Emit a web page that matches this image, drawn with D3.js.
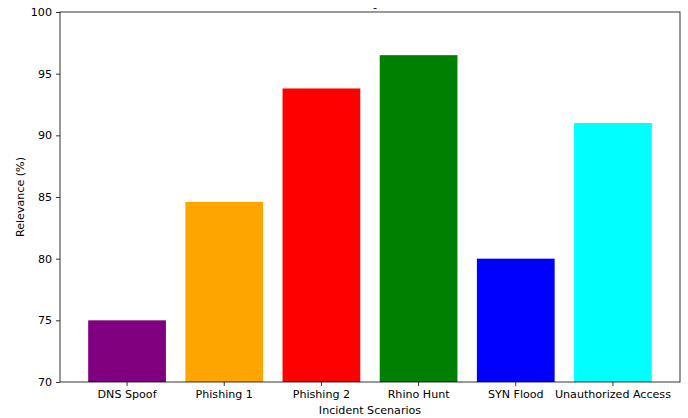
<!DOCTYPE html>
<html>
<head>
<meta charset="utf-8">
<script src="https://cdn.jsdelivr.net/npm/d3@7"></script>
<style>
  body { margin: 0; background: #fff; }
  text { font-family: "DejaVu Sans", sans-serif; fill: #000; }
</style>
</head>
<body>
<div id="chart"></div>
<script>
// data
const scenarios = ["DNS Spoof", "Phishing 1", "Phishing 2", "Rhino Hunt", "SYN Flood", "Unauthorized Access"];
const relevance = [75, 84.6, 93.8, 96.5, 80, 91];
const barColors = ["purple", "orange", "red", "green", "blue", "cyan"];
const yTicks = [70, 75, 80, 85, 90, 95, 100];

const width = 688, height = 418;
const margin = { top: 12, right: 8, bottom: 36, left: 60 };
const fontSize = "11.1px";

const svg = d3.select("#chart").append("svg")
  .attr("width", width)
  .attr("height", height);

const x = d3.scaleBand()
  .domain(scenarios)
  .range([margin.left, width - margin.right])
  .paddingInner(0.2)
  .paddingOuter(0.29);

const y = d3.scaleLinear()
  .domain([70, 100])
  .range([height - margin.bottom, margin.top]);

// bars
svg.append("g")
  .selectAll("rect")
  .data(scenarios)
  .enter()
  .append("rect")
  .attr("x", d => x(d))
  .attr("width", x.bandwidth())
  .attr("y", (d, i) => y(relevance[i]))
  .attr("height", (d, i) => y(70) - y(relevance[i]))
  .attr("fill", (d, i) => barColors[i]);

// axes
const xAxis = svg.append("g")
  .attr("transform", `translate(0,${height - margin.bottom})`)
  .call(d3.axisBottom(x).tickSizeOuter(0).tickSize(4).tickPadding(4));

const yAxis = svg.append("g")
  .attr("transform", `translate(${margin.left},0)`)
  .call(d3.axisLeft(y).tickValues(yTicks).tickSizeOuter(0).tickSize(4).tickPadding(4));

[xAxis, yAxis].forEach(g => {
  g.selectAll("text").style("font-size", fontSize).style("font-family", "DejaVu Sans, sans-serif");
  g.selectAll("line").attr("stroke", "#000").attr("stroke-width", 0.8);
  g.select(".domain").remove();
});

// frame
svg.append("rect")
  .attr("x", margin.left)
  .attr("y", margin.top)
  .attr("width", width - margin.left - margin.right)
  .attr("height", height - margin.top - margin.bottom)
  .attr("fill", "none")
  .attr("stroke", "#000")
  .attr("stroke-width", 0.8);

// labels
svg.append("text")
  .attr("x", (margin.left + width - margin.right) / 2)
  .attr("y", 414)
  .attr("text-anchor", "middle")
  .style("font-size", fontSize)
  .text("Incident Scenarios");

svg.append("text")
  .attr("transform", `translate(24,${(margin.top + height - margin.bottom) / 2}) rotate(-90)`)
  .attr("text-anchor", "middle")
  .style("font-size", fontSize)
  .text("Relevance (%)");

svg.append("text")
  .attr("x", 375)
  .attr("y", 11)
  .attr("text-anchor", "middle")
  .style("font-size", fontSize)
  .text("-");
</script>
</body>
</html>
